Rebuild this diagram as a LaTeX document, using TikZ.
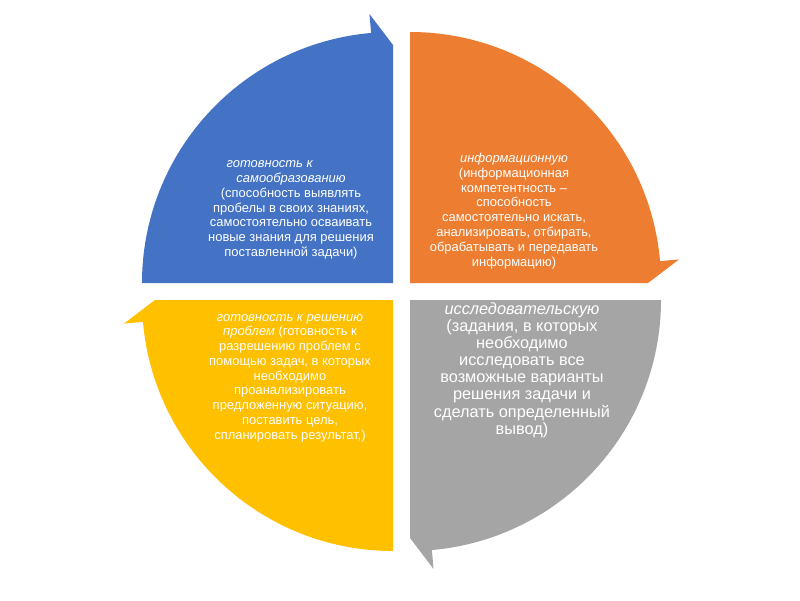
\documentclass[tikz,border=0pt]{standalone}
\usepackage{fontspec}
\setmainfont{Liberation Sans}
\usepackage{tikz}
\usetikzlibrary{calc}
\usepackage{xcolor}
\definecolor{secblue}{HTML}{4472C4}
\definecolor{secorange}{HTML}{ED7D31}
\definecolor{secgray}{HTML}{A5A5A5}
\definecolor{secyellow}{HTML}{FFC000}

\begin{document}
\begin{tikzpicture}[x=0.025cm,y=0.025cm]
  \tikzset{sectortext/.style={text=white,align=center,inner sep=0pt,font=\fontsize{9.2}{10.5}\selectfont}}
  \tikzset{bigtext/.style={sectortext,font=\fontsize{11.6}{12.2}\selectfont}}
  \useasboundingbox (0,0) rectangle (800,600);
  \coordinate (cb) at (393,317);
  \coordinate (co) at (410,317);
  \coordinate (cg) at (410,300);
  \coordinate (cy) at (393,300);
  \fill[secblue] (cb) -- ($(cb)+(180:251)$) arc[start angle=180,end angle=95,radius=251]
    -- ($(cb)+(95:270)$) -- ($(cb)+(90:238)$) -- cycle;
  \fill[secorange] (co) -- ($(co)+(90:251)$) arc[start angle=90,end angle=5,radius=251]
    -- ($(co)+(5:270)$) -- ($(co)+(0:238)$) -- cycle;
  \fill[secgray] (cg) -- ($(cg)+(0:251)$) arc[start angle=0,end angle=-85,radius=251]
    -- ($(cg)+(-85:270)$) -- ($(cg)+(-90:238)$) -- cycle;
  \fill[secyellow] (cy) -- ($(cy)+(-90:251)$) arc[start angle=-90,end angle=-175,radius=251]
    -- ($(cy)+(-175:270)$) -- ($(cy)+(180:238)$) -- cycle;
  \node[sectortext] (tblue) at (291,390) {\textit{готовность к}\hspace*{30pt}\\\textit{самообразованию}\\(способность выявлять\\пробелы в своих знаниях,\\самостоятельно осваивать\\новые знания для решения\\поставленной задачи)};
  \node[sectortext] (torange) at (514,389) {\textit{информационную}\\(информационная\\компетентность –\\способность\\самостоятельно искать,\\анализировать, отбирать,\\обрабатывать и передавать\\информацию)};
  \node[bigtext] (tgray) at (522,230) {\textit{исследовательскую}\\(задания, в которых\\необходимо\\исследовать все\\возможные варианты\\решения задачи и\\сделать определенный\\вывод)};
  \node[sectortext] (tyellow) at (290,222) {\textit{готовность к решению}\\\textit{проблем} (готовность к\\разрешению проблем с\\помощью задач, в которых\\необходимо\\проанализировать\\предложенную ситуацию,\\поставить цель,\\спланировать результат,)};
\end{tikzpicture}
\end{document}
